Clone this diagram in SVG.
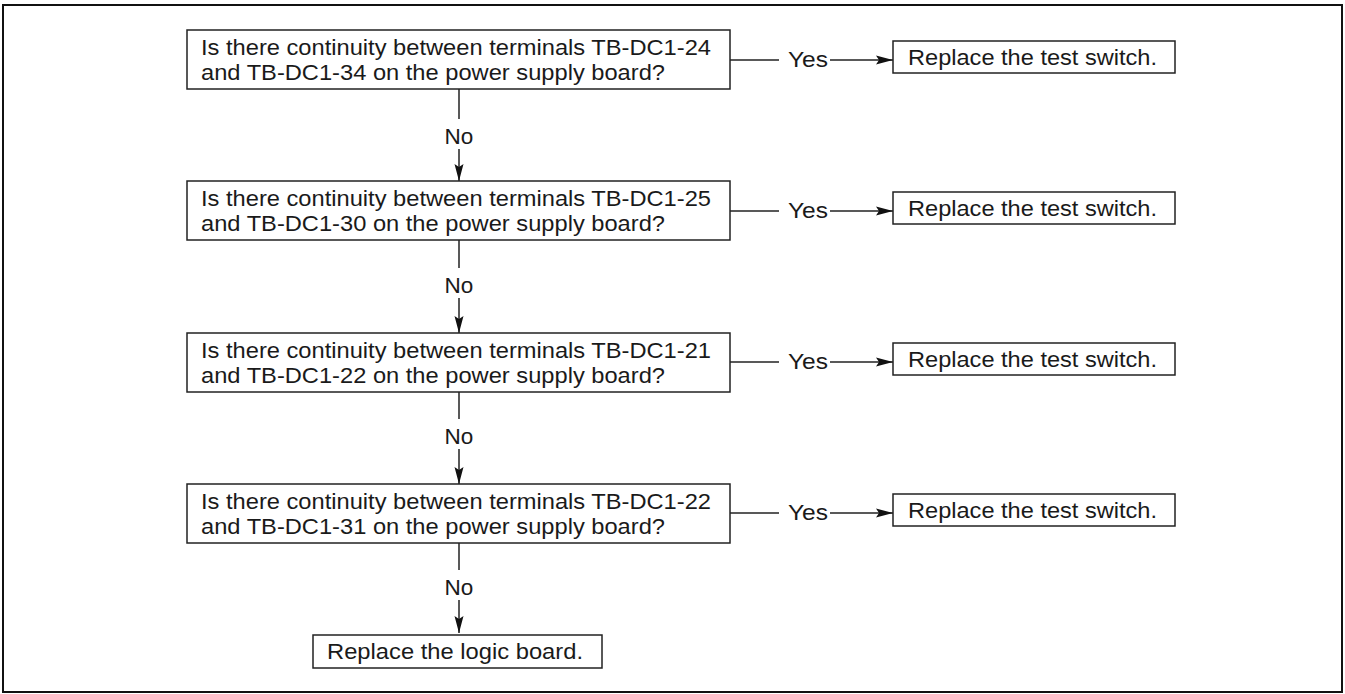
<svg xmlns="http://www.w3.org/2000/svg" width="1345" height="694" viewBox="0 0 1345 694">
<style>
.box{fill:#fff;stroke:#222;stroke-width:1.5}
.ln{fill:none;stroke:#222;stroke-width:1.5}
text{font-family:"Liberation Sans",Arial,sans-serif;font-size:22.5px;fill:#1a1a1a}
.c{text-anchor:middle}
</style>
<defs>
<marker id="ah" markerWidth="17" markerHeight="10" refX="17" refY="5" orient="auto" markerUnits="userSpaceOnUse">
<path d="M0,0.5 L17,5 L0,9.5 L3,5 Z" fill="#111"/>
</marker>
</defs>
<rect x="3" y="5" width="1339" height="687" fill="#fff" stroke="#111" stroke-width="2"/>
<g id="connectors">
<line class="ln" x1="730" y1="60" x2="779" y2="60"/><text x="788" y="67" textLength="40" lengthAdjust="spacingAndGlyphs">Yes</text><line class="ln" x1="830" y1="60" x2="893" y2="60" marker-end="url(#ah)"/>
<line class="ln" x1="730" y1="211" x2="779" y2="211"/><text x="788" y="218" textLength="40" lengthAdjust="spacingAndGlyphs">Yes</text><line class="ln" x1="830" y1="211" x2="893" y2="211" marker-end="url(#ah)"/>
<line class="ln" x1="730" y1="362" x2="779" y2="362"/><text x="788" y="369" textLength="40" lengthAdjust="spacingAndGlyphs">Yes</text><line class="ln" x1="830" y1="362" x2="893" y2="362" marker-end="url(#ah)"/>
<line class="ln" x1="730" y1="513" x2="779" y2="513"/><text x="788" y="520" textLength="40" lengthAdjust="spacingAndGlyphs">Yes</text><line class="ln" x1="830" y1="513" x2="893" y2="513" marker-end="url(#ah)"/>
<line class="ln" x1="459" y1="89" x2="459" y2="119"/><text class="c" x="459" y="144">No</text><line class="ln" x1="459" y1="149" x2="459" y2="181" marker-end="url(#ah)"/>
<line class="ln" x1="459" y1="240" x2="459" y2="268"/><text class="c" x="459" y="293">No</text><line class="ln" x1="459" y1="298" x2="459" y2="333" marker-end="url(#ah)"/>
<line class="ln" x1="459" y1="392" x2="459" y2="419"/><text class="c" x="459" y="444">No</text><line class="ln" x1="459" y1="449" x2="459" y2="484" marker-end="url(#ah)"/>
<line class="ln" x1="459" y1="543" x2="459" y2="570"/><text class="c" x="459" y="595">No</text><line class="ln" x1="459" y1="600" x2="459" y2="633" marker-end="url(#ah)"/>
</g>
<g id="q1"><rect class="box" x="187" y="30" width="543" height="59"/><text x="201" y="55" textLength="510" lengthAdjust="spacingAndGlyphs">Is there continuity between terminals TB-DC1-24</text><text x="201" y="80" textLength="464" lengthAdjust="spacingAndGlyphs">and TB-DC1-34 on the power supply board?</text></g>
<g id="q2"><rect class="box" x="187" y="181" width="543" height="59"/><text x="201" y="206" textLength="510" lengthAdjust="spacingAndGlyphs">Is there continuity between terminals TB-DC1-25</text><text x="201" y="231" textLength="464" lengthAdjust="spacingAndGlyphs">and TB-DC1-30 on the power supply board?</text></g>
<g id="q3"><rect class="box" x="187" y="333" width="543" height="59"/><text x="201" y="358" textLength="510" lengthAdjust="spacingAndGlyphs">Is there continuity between terminals TB-DC1-21</text><text x="201" y="383" textLength="464" lengthAdjust="spacingAndGlyphs">and TB-DC1-22 on the power supply board?</text></g>
<g id="q4"><rect class="box" x="187" y="484" width="543" height="59"/><text x="201" y="509" textLength="510" lengthAdjust="spacingAndGlyphs">Is there continuity between terminals TB-DC1-22</text><text x="201" y="534" textLength="464" lengthAdjust="spacingAndGlyphs">and TB-DC1-31 on the power supply board?</text></g>
<g id="r1"><rect class="box" x="893" y="41" width="282" height="32"/><text x="908" y="65" textLength="249" lengthAdjust="spacingAndGlyphs">Replace the test switch.</text></g>
<g id="r2"><rect class="box" x="893" y="192" width="282" height="32"/><text x="908" y="216" textLength="249" lengthAdjust="spacingAndGlyphs">Replace the test switch.</text></g>
<g id="r3"><rect class="box" x="893" y="343" width="282" height="32"/><text x="908" y="367" textLength="249" lengthAdjust="spacingAndGlyphs">Replace the test switch.</text></g>
<g id="r4"><rect class="box" x="893" y="494" width="282" height="32"/><text x="908" y="518" textLength="249" lengthAdjust="spacingAndGlyphs">Replace the test switch.</text></g>
<g id="end"><rect class="box" x="313" y="635" width="289" height="33"/><text x="327" y="659" textLength="256" lengthAdjust="spacingAndGlyphs">Replace the logic board.</text></g>
</svg>
